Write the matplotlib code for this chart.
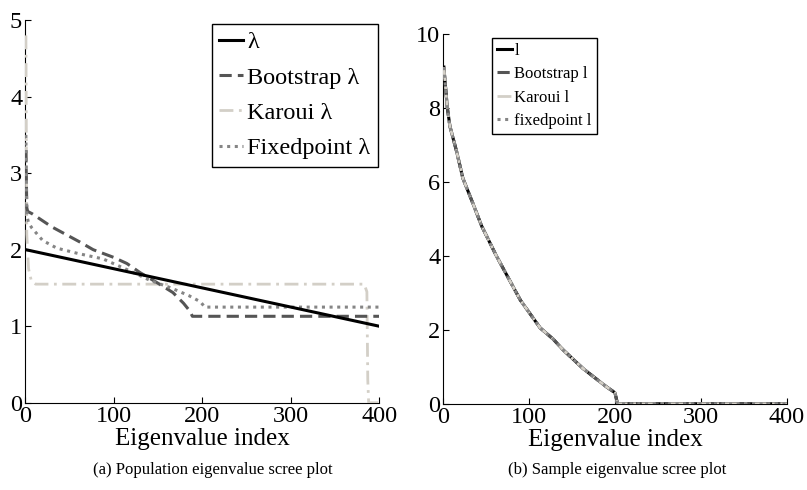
import matplotlib
matplotlib.use('Agg')
import matplotlib.pyplot as plt

plt.rcParams['font.family'] = ['Liberation Serif', 'DejaVu Serif']

# Population eigenvalues (panel a)
pop_x = [1, 400]
pop_y = [2.0, 1.0]

boot_x = [1, 2, 3, 8, 30, 62, 77, 100, 115, 130, 149, 167, 179, 186, 189, 400]
boot_y = [3.3, 2.55, 2.5, 2.47, 2.3, 2.1, 2.0, 1.9, 1.82, 1.7, 1.57, 1.44, 1.3, 1.2, 1.13, 1.13]

karoui_x = [1, 2, 4, 7, 12, 383, 386, 387, 388, 400]
karoui_y = [4.8, 2.2, 1.75, 1.6, 1.55, 1.55, 1.45, 0.3, 0.0, 0.0]

fixed_x = [1, 2, 4, 8, 20, 36, 60, 88, 119, 141, 165, 185, 198, 203, 400]
fixed_y = [3.5, 2.45, 2.35, 2.28, 2.12, 2.02, 1.95, 1.88, 1.72, 1.6, 1.5, 1.4, 1.32, 1.25, 1.25]

# Sample eigenvalues (panel b)
samp_x = [1, 2, 5, 8, 16, 23, 35, 45, 62, 90, 113, 128, 140, 163, 190, 200, 203, 400]
samp_y = [9.1, 8.8, 8.0, 7.5, 6.8, 6.1, 5.4, 4.8, 4.0, 2.8, 2.05, 1.75, 1.45, 0.95, 0.46, 0.3, 0.0, 0.0]
boot_l = samp_y
karoui_l = samp_y
fixed_l = samp_y

c_boot = '#555555'
c_kar = '#d3cfc7'
c_fix = '#858585'

fig = plt.figure(figsize=(8.07, 4.90), dpi=100)
ax1 = fig.add_axes([0.031, 0.178, 0.439, 0.781])
ax2 = fig.add_axes([0.549, 0.176, 0.426, 0.755])

ax1.plot(pop_x, pop_y, color='black', lw=2.2, label='λ', zorder=5)
ax1.plot(boot_x, boot_y, color=c_boot, lw=2.2, ls=(0, (4, 2)), label='Bootstrap λ', zorder=4)
ax1.plot(karoui_x, karoui_y, color=c_kar, lw=2.0, ls=(0, (5, 2, 1, 2)), label='Karoui λ', zorder=3)
ax1.plot(fixed_x, fixed_y, color=c_fix, lw=2.2, ls=(0, (1, 1.5)), label='Fixedpoint λ', zorder=4)

ax2.plot(samp_x, samp_y, color='black', lw=2.2, label='l', zorder=2)
ax2.plot(samp_x, boot_l, color=c_boot, lw=2.2, ls=(0, (4, 2)), label='Bootstrap l', zorder=3)
ax2.plot(samp_x, karoui_l, color=c_kar, lw=2.0, ls=(0, (5, 2, 1, 2)), label='Karoui l', zorder=4)
ax2.plot(samp_x, fixed_l, color=c_fix, lw=2.2, ls=(0, (1, 1.5)), label='fixedpoint l', zorder=5)

for ax, top, step in [(ax1, 5, 1), (ax2, 10, 2)]:
    ax.set_xlim(0, 400)
    ax.set_ylim(0, top)
    ax.set_xticks([0, 100, 200, 300, 400])
    ax.set_yticks(range(0, top + 1, step))
    ax.spines['top'].set_visible(False)
    ax.spines['right'].set_visible(False)
    ax.tick_params(direction='in', length=4, width=0.8, labelsize=17.5, pad=2)
    ax.set_xlabel('Eigenvalue index', fontsize=18, labelpad=1)

leg1 = ax1.legend(loc='upper right', bbox_to_anchor=(0.995, 0.99), fontsize=17.5,
                  handlelength=1.0, handletextpad=0.15, labelspacing=0.55,
                  borderpad=0.3, borderaxespad=0, fancybox=False, framealpha=1)
leg1.get_frame().set_edgecolor('black')
leg1.get_frame().set_linewidth(1.0)

leg2 = ax2.legend(loc='upper left', bbox_to_anchor=(0.142, 0.99), fontsize=12,
                  handlelength=0.9, handletextpad=0.15, labelspacing=0.45,
                  borderpad=0.3, borderaxespad=0, fancybox=False, framealpha=1)
leg2.get_frame().set_edgecolor('black')
leg2.get_frame().set_linewidth(1.0)

fig.text(0.264, 0.041, '(a) Population eigenvalue scree plot', ha='center', va='center', fontsize=12)
fig.text(0.765, 0.041, '(b) Sample eigenvalue scree plot', ha='center', va='center', fontsize=12)

fig.savefig('out.png', dpi=100)
